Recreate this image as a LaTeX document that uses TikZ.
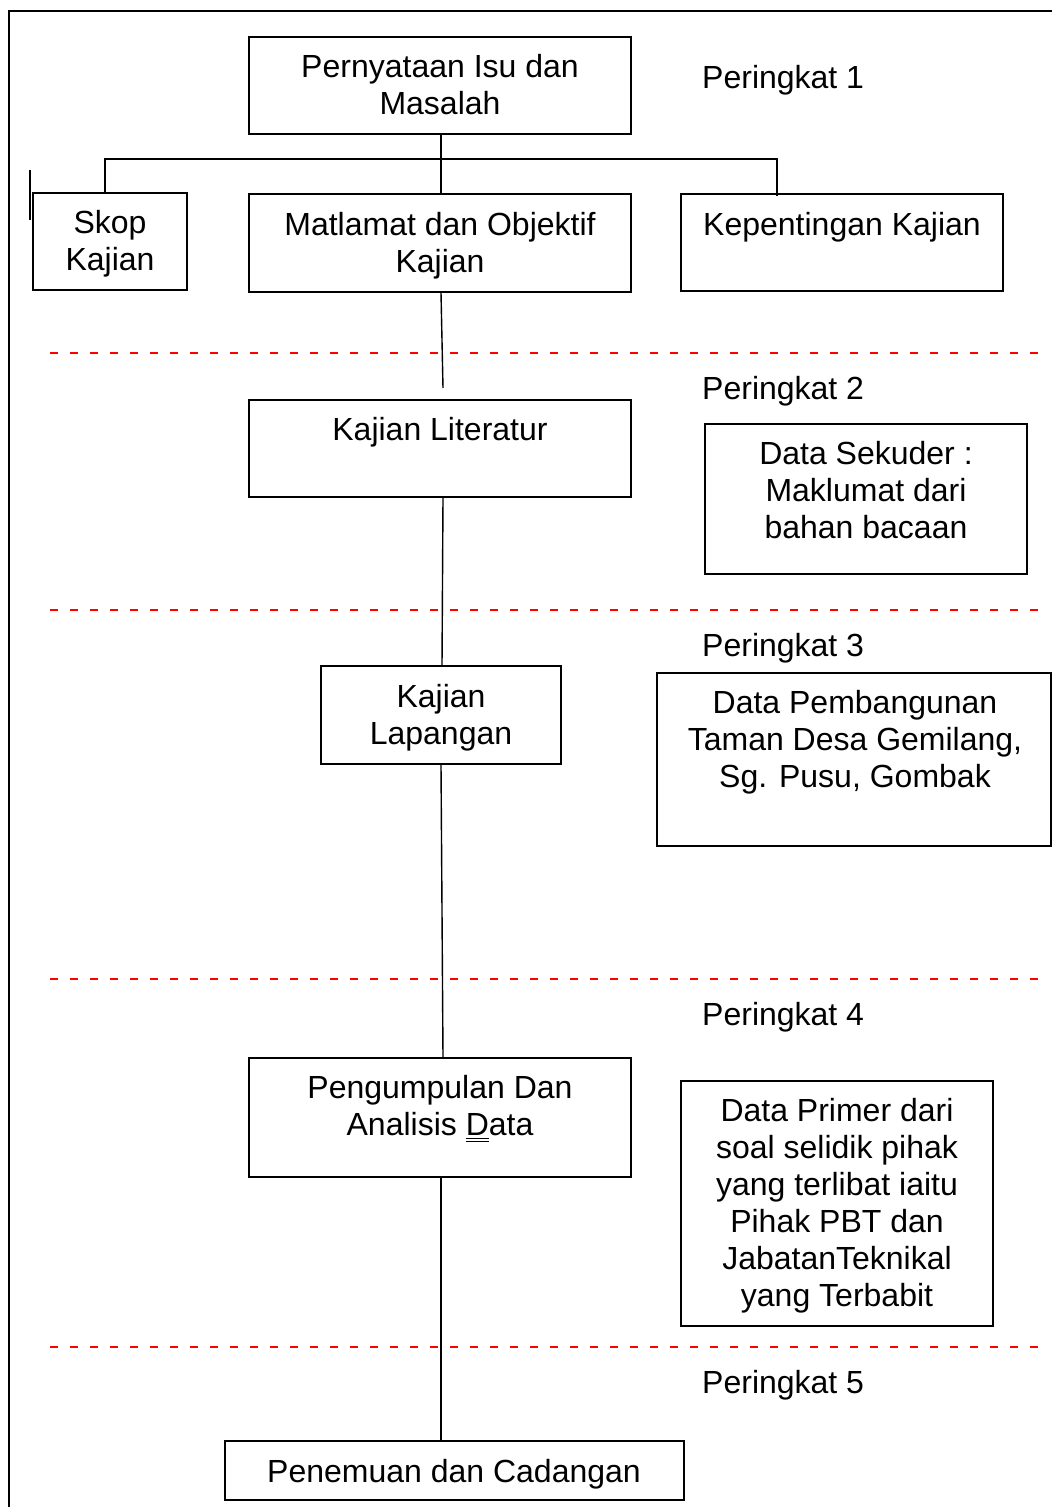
\documentclass[tikz,border=0pt]{standalone}
\usepackage{fontspec}
\setmainfont{Liberation Sans}
\newcommand\mydul[1]{\setbox0\hbox{#1}\rlap{\rule[-3.5pt]{\wd0}{1pt}}\rlap{\rule[-6.5pt]{\wd0}{1pt}}\box0}
\begin{document}
\begin{tikzpicture}[x=1pt,y=-1pt,
  box/.style={draw=black,line width=1.6pt,inner sep=0pt},
  txt/.style={anchor=north,inner sep=0pt,align=center,font=\fontsize{32}{37}\selectfont},
  lvl/.style={anchor=north west,inner sep=0pt,font=\fontsize{32}{37}\selectfont},
  conn/.style={draw=black,line width=1.4pt},
  sep/.style={draw=red,line width=2.6pt,dash pattern=on 8pt off 12pt},
  frame/.style={draw=black,line width=2pt}]
\useasboundingbox (0,0) rectangle (1052,1507);
% outer frame
\coordinate (f1) at (9,11);
\coordinate (f2) at (1052,11);
\coordinate (f3) at (9,1507);
\draw[frame] (f3) -- (f1) -- (f2);
\coordinate (s1) at (30,170);
\coordinate (s2) at (30,220);
\draw[line width=1.4pt] (s1) -- (s2);
% separators
\foreach \yy/\nm in {353/a,610/b,979/c,1347/d}{
  \coordinate (sl\nm) at (50,\yy);
  \coordinate (sr\nm) at (1040,\yy);
  \draw[sep] (sl\nm) -- (sr\nm);
}
% boxes
\node[box,minimum width=382pt,minimum height=97pt] (p) at (440,85.5) {};
\node[box,minimum width=154pt,minimum height=97pt] (skop) at (110,241.5) {};
\node[box,minimum width=382pt,minimum height=98pt] (mat) at (440,243) {};
\node[box,minimum width=322pt,minimum height=97pt] (kep) at (842,242.5) {};
\node[box,minimum width=382pt,minimum height=97pt] (lit) at (440,448.5) {};
\node[box,minimum width=322pt,minimum height=150pt] (sek) at (866,499) {};
\node[box,minimum width=240pt,minimum height=98pt] (lap) at (441,715) {};
\node[box,minimum width=394pt,minimum height=173pt] (pem) at (854,759.5) {};
\node[box,minimum width=382pt,minimum height=119pt] (ana) at (440,1117.5) {};
\node[box,minimum width=312pt,minimum height=245pt] (pri) at (837,1203.5) {};
\node[box,minimum width=459pt,minimum height=59pt] (pen) at (454.5,1470.5) {};
% texts
\node[txt] (tp) at (440,51.6) {\strut Pernyataan Isu dan\\Masalah};
\node[txt] (tskop) at (110,207.1) {\strut Skop\\Kajian};
\node[txt] (tmat) at (440,209.1) {\strut Matlamat dan Objektif\\Kajian};
\node[txt] (tkep) at (842,209.1) {\strut Kepentingan Kajian};
\node[txt] (tlit) at (440,414.1) {\strut Kajian Literatur};
\node[txt] (tsek) at (866,438.1) {\strut Data Sekuder :\\Maklumat dari\\bahan bacaan};
\node[txt] (tlap) at (441,681.1) {\strut Kajian\\Lapangan};
\node[txt] (tpem) at (855,687.1) {\strut Data Pembangunan\\Taman Desa Gemilang,\\Sg. Pusu, Gombak};
\node[txt] (tana) at (440,1072.1) {\strut Pengumpulan Dan\\Analisis \mydul{D}ata};
\node[txt] (tpri) at (837,1095.1) {\strut Data Primer dari\\soal selidik pihak\\yang terlibat iaitu\\Pihak PBT dan\\JabatanTeknikal\\yang Terbabit};
\node[txt] (tpen) at (454,1456.1) {\strut Penemuan dan Cadangan};
% level labels
\node[lvl] (l1) at (702,62.1) {\strut Peringkat 1};
\node[lvl] (l2) at (702,373.1) {\strut Peringkat 2};
\node[lvl] (l3) at (702,630.1) {\strut Peringkat 3};
\node[lvl] (l4) at (702,999.1) {\strut Peringkat 4};
\node[lvl] (l5) at (702,1367.1) {\strut Peringkat 5};
% connectors
\coordinate (hl) at (105,159);
\coordinate (hr) at (777,159);
\coordinate (hm) at (441,159);
\draw[conn] (p.south -| hm) -- (mat.north -| hm);
\draw[conn] (skop.north -| hl) -- (hl) -- (hr) -- ([yshift=-3pt]kep.north -| hr);
\coordinate (e1) at (443,388);
\draw[conn] (mat.south -| hm) -- (e1);
\draw[conn] ([xshift=3pt]lit.south) -- ([xshift=1pt]lap.north);
\draw[conn] (lap.south) -- ([xshift=3pt]ana.north);
\draw[conn] ([xshift=1pt]ana.south) -- (pen.north -| hm);
\end{tikzpicture}
\end{document}
